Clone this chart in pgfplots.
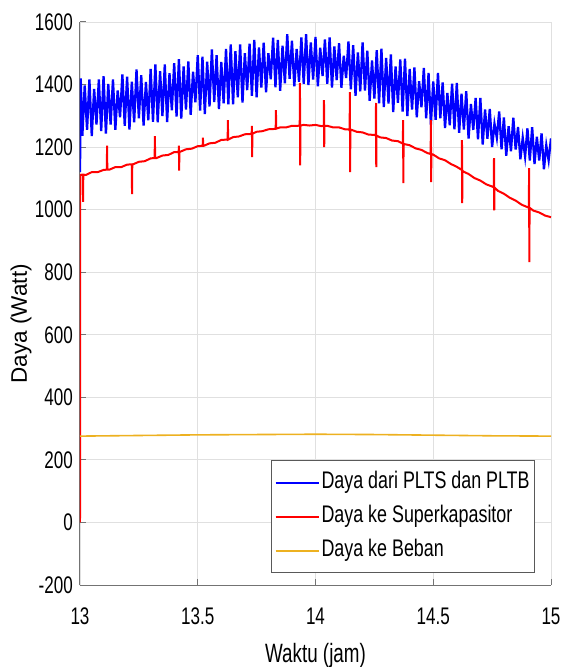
\documentclass[border=0pt]{standalone}
\usepackage{pgfplots}
\pgfplotsset{compat=1.18}
\usetikzlibrary{calc}
\usepackage{fontspec}
\setmainfont{Liberation Sans}
\newfontfamily\condfont{Liberation Sans}[FakeStretch=0.71]
\newfontfamily\legfont{Liberation Sans}[FakeStretch=0.745]
\definecolor{myel}{RGB}{237,177,32}
\begin{document}
\begin{tikzpicture}
\begin{axis}[
  name=ax,
  scale only axis,
  width=471pt, height=563pt,
  xmin=13, xmax=15, ymin=-200, ymax=1600,
  xtick={13,13.5,14,14.5,15},
  ytick={-200,0,200,400,600,800,1000,1200,1400,1600},
  axis x line*=bottom, axis y line*=left,
  axis line style={black!55, line width=1pt},
  tick style={black!55, line width=1pt},
  tick align=inside, major tick length=6pt,
  grid=major,
  major grid style={black!12, line width=0.8pt},
  /pgf/number format/assume math mode=true,
  /pgf/number format/1000 sep={},
  ticklabel style={font=\condfont\fontsize{24}{28}\selectfont},
  xticklabel style={anchor=base, yshift=-39pt},
  yticklabel style={anchor=east, inner sep=0pt, xshift=-7pt},
  xlabel={\condfont\fontsize{26.5}{30}\selectfont Waktu (jam)},
  xlabel style={at={(rel axis cs:0.5,0)}, anchor=base, yshift=-77pt, inner sep=0pt},
  ylabel={\fontsize{22.5}{26}\selectfont Daya (Watt)},
  ylabel style={at={(rel axis cs:0,0.464)}, anchor=center, yshift=59pt, inner sep=0pt},
  legend style={at={(rel axis cs:1,0)}, anchor=south east, xshift=-16pt, yshift=12pt,
    draw=black!65, line width=0.8pt, inner xsep=3pt, inner ysep=5pt,
    font=\legfont\fontsize{24}{28}\selectfont,
    nodes={inner xsep=2pt, inner ysep=5.5pt, text height=17.5pt, text depth=5.5pt},
    row sep=0pt},
  legend cell align=left,
  legend image code/.code={\draw[#1, line width=1.8pt] (0pt,0pt) -- (43pt,0pt);},
]
\addplot[draw=blue, line width=2.3pt] coordinates {
(13.000,1120)(13.003,1420)(13.01,1236)(13.02,1397)(13.03,1255)(13.04,1416)(13.05,1235)(13.06,1386)(13.07,1272)(13.08,1416)(13.09,1251)
(13.10,1427)(13.11,1243)(13.12,1402)(13.13,1272)(13.14,1416)(13.15,1255)(13.16,1381)(13.17,1295)(13.18,1432)(13.19,1268)
(13.20,1425)(13.21,1256)(13.22,1409)(13.23,1279)(13.24,1448)(13.25,1292)(13.26,1430)(13.27,1269)(13.28,1408)(13.29,1286)
(13.30,1450)(13.31,1281)(13.32,1464)(13.33,1279)(13.34,1443)(13.35,1299)(13.36,1464)(13.37,1280)(13.38,1436)(13.39,1318)
(13.40,1468)(13.41,1298)(13.42,1481)(13.43,1291)(13.44,1458)(13.45,1320)(13.46,1474)(13.47,1303)(13.48,1441)(13.49,1343)
(13.50,1494)(13.51,1317)(13.52,1489)(13.53,1306)(13.54,1473)(13.55,1330)(13.56,1512)(13.57,1344)(13.58,1494)(13.59,1322)
(13.60,1472)(13.61,1340)(13.62,1514)(13.63,1337)(13.64,1528)(13.65,1337)(13.66,1507)(13.67,1359)(13.68,1528)(13.69,1342)
(13.70,1500)(13.71,1382)(13.72,1531)(13.73,1364)(13.74,1543)(13.75,1359)(13.76,1519)(13.77,1390)(13.78,1534)(13.79,1375)
(13.80,1500)(13.81,1417)(13.82,1550)(13.83,1391)(13.84,1543)(13.85,1380)(13.86,1524)(13.87,1404)(13.88,1561)(13.89,1418)
(13.90,1540)(13.91,1394)(13.92,1514)(13.93,1409)(13.94,1551)(13.95,1402)(13.96,1561)(13.97,1398)(13.98,1535)(13.99,1416)
(14.00,1552)(14.01,1394)(14.02,1518)(14.03,1427)(14.04,1544)(14.05,1402)(14.06,1551)(14.07,1390)(14.08,1522)(14.09,1414)
(14.10,1532)(14.11,1390)(14.12,1492)(14.13,1421)(14.14,1538)(14.15,1385)(14.16,1526)(14.17,1364)(14.18,1503)(14.19,1378)
(14.20,1535)(14.21,1381)(14.22,1508)(14.23,1348)(14.24,1477)(14.25,1355)(14.26,1510)(14.27,1340)(14.28,1515)(14.29,1328)
(14.30,1485)(14.31,1339)(14.32,1496)(14.33,1312)(14.34,1458)(14.35,1342)(14.36,1480)(14.37,1314)(14.38,1483)(14.39,1299)
(14.40,1450)(14.41,1320)(14.42,1455)(14.43,1295)(14.44,1411)(14.45,1327)(14.46,1453)(14.47,1292)(14.48,1437)(14.49,1272)
(14.50,1410)(14.51,1287)(14.52,1437)(14.53,1292)(14.54,1407)(14.55,1261)(14.56,1373)(14.57,1270)(14.58,1403)(14.59,1257)
(14.60,1405)(14.61,1246)(14.62,1371)(14.63,1256)(14.64,1379)(14.65,1227)(14.66,1338)(14.67,1255)(14.68,1357)(14.69,1225)
(14.70,1357)(14.71,1208)(14.72,1320)(14.73,1227)(14.74,1322)(14.75,1200)(14.76,1275)(14.77,1230)(14.78,1314)(14.79,1193)
(14.80,1295)(14.81,1172)(14.82,1267)(14.83,1187)(14.84,1294)(14.85,1192)(14.86,1264)(14.87,1161)(14.88,1230)(14.89,1170)
(14.90,1260)(14.91,1157)(14.92,1264)(14.93,1146)(14.94,1233)(14.95,1157)(14.96,1244)(14.97,1129)(14.98,1206)(14.99,1158)
(15.00,1228)
};
\addlegendentry{Daya dari PLTS dan PLTB}
\addplot[draw=red, line width=2pt] coordinates {
(13.000,0)(13.0005,1110)(13.008,1112)
(13.012,1112)(13.013,1025)(13.014,1112)
(13.025,1111)(13.050,1120)(13.075,1120)(13.100,1127)
(13.114,1128)(13.115,1205)(13.116,1128)
(13.125,1128)(13.150,1136)(13.175,1136)(13.200,1144)
(13.220,1145)(13.221,1050)(13.222,1145)
(13.225,1145)(13.250,1153)(13.275,1155)(13.300,1164)
(13.317,1165)(13.318,1235)(13.319,1165)
(13.325,1165)(13.350,1173)(13.375,1175)(13.400,1184)
(13.419,1184)(13.420,1205)(13.421,1125)(13.422,1184)
(13.425,1185)(13.450,1193)(13.475,1195)(13.500,1203)
(13.521,1204)(13.522,1230)(13.523,1204)
(13.525,1204)(13.550,1212)(13.575,1214)(13.600,1223)(13.625,1224)
(13.627,1224)(13.628,1286)(13.629,1224)
(13.650,1232)(13.675,1234)(13.700,1241)(13.725,1242)
(13.729,1243)(13.730,1268)(13.731,1168)(13.732,1243)
(13.750,1249)(13.775,1251)(13.800,1257)(13.825,1258)
(13.831,1259)(13.832,1318)(13.833,1259)
(13.850,1263)(13.875,1263)(13.900,1268)(13.925,1268)
(13.933,1269)(13.934,1405)(13.935,1142)(13.936,1269)
(13.950,1271)(13.975,1269)(14.000,1271)(14.025,1267)
(14.035,1268)(14.036,1350)(14.037,1200)(14.038,1268)
(14.050,1268)(14.075,1263)(14.100,1263)(14.125,1257)
(14.145,1256)(14.146,1376)(14.147,1120)(14.148,1256)
(14.150,1256)(14.175,1249)(14.200,1247)(14.225,1240)(14.250,1239)
(14.256,1237)(14.257,1341)(14.258,1136)(14.259,1237)
(14.275,1231)(14.300,1229)(14.325,1221)(14.350,1219)
(14.371,1211)(14.372,1286)(14.373,1085)(14.374,1211)
(14.375,1210)(14.400,1206)(14.425,1196)(14.450,1191)(14.475,1181)
(14.489,1178)(14.490,1286)(14.491,1088)(14.492,1178)
(14.500,1176)(14.525,1164)(14.550,1158)(14.575,1146)(14.600,1137)
(14.621,1127)(14.622,1222)(14.623,1021)(14.624,1127)
(14.625,1123)(14.650,1114)(14.675,1101)(14.700,1093)(14.725,1081)(14.750,1074)
(14.757,1071)(14.758,1165)(14.759,998)(14.760,1071)
(14.775,1060)(14.800,1051)(14.825,1038)(14.850,1029)(14.875,1016)(14.900,1008)
(14.906,1006)(14.907,1133)(14.908,832)(14.909,1006)
(14.925,997)(14.950,991)(14.975,981)(15.000,976)
};
\addlegendentry{Daya ke Superkapasitor}
\addplot[draw=myel, line width=1.6pt] coordinates {
(13.00,276)(13.25,278)(13.50,280)(13.75,281)(14.00,282)(14.25,281)(14.50,279)(14.75,277)(15.00,276)
};
\addlegendentry{Daya ke Beban}
\end{axis}
\pgfresetboundingbox
\path[use as bounding box] ($(ax.south west)+(-80pt,-82pt)$) rectangle ($(ax.north east)+(12pt,22pt)$);
\end{tikzpicture}
\end{document}
